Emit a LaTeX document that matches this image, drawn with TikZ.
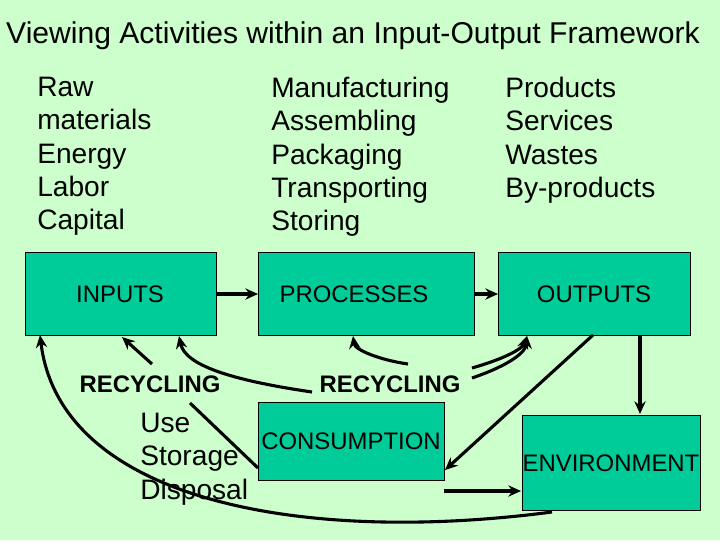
\documentclass[tikz,border=0pt]{standalone}
\usepackage{fontspec}
\setmainfont{Liberation Sans}
\begin{document}
\begin{tikzpicture}[x=0.025cm,y=-0.025cm,
 box/.style={draw=black,fill=boxc,line width=0.6pt},
 arr/.style={line width=2.2pt,-{Stealth[length=9pt,width=8pt]}},
 ln/.style={line width=2.2pt},
 lst/.style={anchor=north west,align=left,font=\fontsize{20}{23.7}\selectfont,inner sep=0pt},
 lbl/.style={font=\fontsize{17}{19}\selectfont},
 rec/.style={font=\bfseries\fontsize{17}{19}\selectfont}]
\usetikzlibrary{arrows.meta}
\definecolor{bg}{HTML}{CCFFCC}\definecolor{boxc}{HTML}{00CC99}
\fill[bg] (0,0) rectangle (720,540);
\node[font=\fontsize{21.4}{24}\selectfont] (title) at (353,36) {Viewing Activities within an Input-Output Framework};
\node[lst] (l1) at (37,77) {Raw\\materials\\Energy\\Labor\\Capital};
\node[lst] (l2) at (271,77) {Manufacturing\\Assembling\\Packaging\\Transporting\\Storing};
\node[lst] (l3) at (505,77) {Products\\Services\\Wastes\\By-products};
\node[lst] (l4) at (140,413) {Use\\Storage\\Disposal};
\draw[box] (25,252) rectangle (216,335);
\draw[box] (258,252) rectangle (474,335);
\draw[box] (498,252) rectangle (690,335);
\draw[box] (258,402) rectangle (444,480);
\draw[box] (522,415) rectangle (700,510);
\node[lbl] (in) at (120,294) {INPUTS};
\node[lbl] (pr) at (354,294) {PROCESSES};
\node[lbl] (out) at (594,294) {OUTPUTS};
\node[lbl] (con) at (351,441) {CONSUMPTION};
\node[lbl] (env) at (611,463) {ENVIRONMENT};
\node[rec] (r1) at (150,384) {RECYCLING};
\node[rec] (r2) at (390,384) {RECYCLING};
\coordinate (a1) at (216,294); \coordinate (a2) at (258,294);
\coordinate (b1) at (474,294); \coordinate (b2) at (498,294);
\draw[arr] (a1) -- (a2);
\draw[arr] (b1) -- (b2);
\draw[arr] (640,335) -- (640,414);
\draw[arr] (593,335) -- (445,470);
\draw[arr] (444,491) -- (521,491);
\draw[arr] (552,512) .. controls (300,545) and (60,500) .. (40,335);
\draw[arr] (152,364) -- (122,337);
\draw[ln] (258,468) -- (190,403);
\draw[arr] (312,392) .. controls (230,380) and (185,365) .. (179,336);
\draw[arr] (408,364) .. controls (380,360) and (355,350) .. (353,336);
\draw[arr] (472,368) .. controls (500,360) and (522,350) .. (527,336);
\draw[arr] (472,378) .. controls (510,365) and (526,352) .. (527,336);
\end{tikzpicture}
\end{document}
